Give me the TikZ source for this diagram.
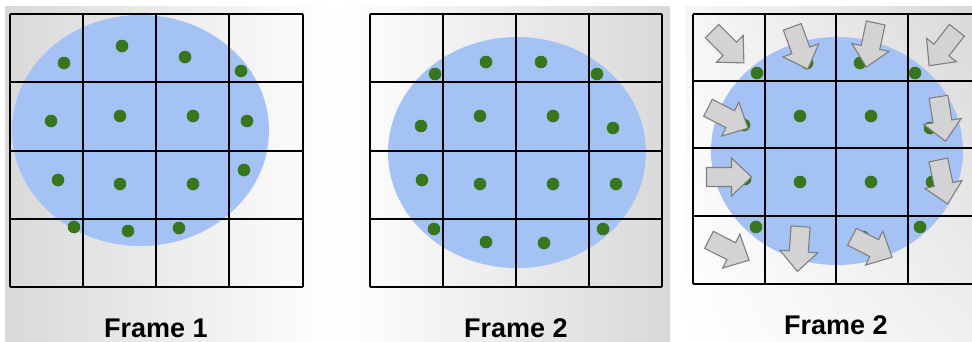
\documentclass[tikz,border=0pt]{standalone}
\usepackage{fontspec}
\setmainfont{Liberation Sans}
\usetikzlibrary{shadings}
\definecolor{blobblue}{HTML}{A4C2F4}
\definecolor{dotgreen}{HTML}{38761D}
\definecolor{arrowfill}{HTML}{D3D3D3}
\definecolor{arrowline}{HTML}{7F7F7F}
\tikzset{
  gridline/.style={line width=2.7pt, black},
  blob/.style={fill=blobblue},
  pt/.style={fill=dotgreen},
  lab/.style={anchor=base, font=\bfseries\fontsize{27}{27}\selectfont, inner sep=0pt},
  blockarrow/.pic={
    \draw[fill=arrowfill, draw=arrowline, line width=1.1pt, line join=miter]
      (-22.5,-9.5) -- (2.5,-9.5) -- (2.5,-19) -- (22.5,0) -- (2.5,19) -- (2.5,9.5) -- (-22.5,9.5) -- cycle;
  }
}
\begin{document}
\begin{tikzpicture}[x=1pt,y=-1pt]
\useasboundingbox (0,0) rectangle (972,341);
% backgrounds
\shade[left color=gray!30, right color=white] (5,6) rectangle (337,341);
\shade[left color=white, right color=gray!30] (337,6) rectangle (670,341);
\shade[upper left=gray!6, upper right=gray!30, lower left=white, lower right=gray!12] (685,6) rectangle (972,341);

% ---------- Panel 1 ----------
\fill[blob] (140.5,130.5) ellipse [x radius=128.5, y radius=115.5];
\foreach \x/\y in {64/63,122/46,185/57,241/71,51/121,120/116,193/116,247/121,58/180,120/184,193/184,244/170,74/227,128/231,179/228}
  \fill[pt] (\x,\y) circle [radius=6.3];
\foreach \x in {10,83,156,229,303} \draw[gridline] (\x,14) -- (\x,287);
\foreach \y in {14,82,151,219,287} \draw[gridline] (10,\y) -- (303,\y);
\node[lab] (f1) at (156,337) {Frame 1};

% ---------- Panel 2 ----------
\fill[blob] (517,152.5) ellipse [x radius=129, y radius=115.5];
\foreach \x/\y in {435/74,486/62,541/62,597/74,421/126,480/116,553/116,613/128,422/180,480/184,553/184,616/184,434/229,486/242,544/243,603/229}
  \fill[pt] (\x,\y) circle [radius=6.3];
\foreach \x in {370,443,516,589,662} \draw[gridline] (\x,14) -- (\x,287);
\foreach \y in {14,82,151,219,287} \draw[gridline] (370,\y) -- (662,\y);
\node[lab] (f2) at (516,337) {Frame 2};

% ---------- Panel 3 ----------
\fill[blob] (837,151) ellipse [x radius=126, y radius=114];
\foreach \x/\y in {757/73,807/63,860/63,915/73,744/125,800/116,871/116,930/128,745/179,800/182,871/182,932/182,756/227,863/237,920/227}
  \fill[pt] (\x,\y) circle [radius=6.3];
\foreach \x in {693,765,836,908} \draw[gridline] (\x,14) -- (\x,284);
\foreach \y in {14,81,148,216,284} \draw[gridline] (693,\y) -- (974,\y);
\foreach \x/\y/\a in {728/47/-45, 800/48/-70, 871/45/-102, 943/48/-128,
                      728/118/-27, 942/119/-81,
                      729/177/0, 943/182/-78,
                      729/250/-27, 799/249/-94, 872/247/-27}
  \pic[rotate=\a] at (\x,\y) {blockarrow};
\node[lab] (f3) at (836,334) {Frame 2};
\end{tikzpicture}
\end{document}
